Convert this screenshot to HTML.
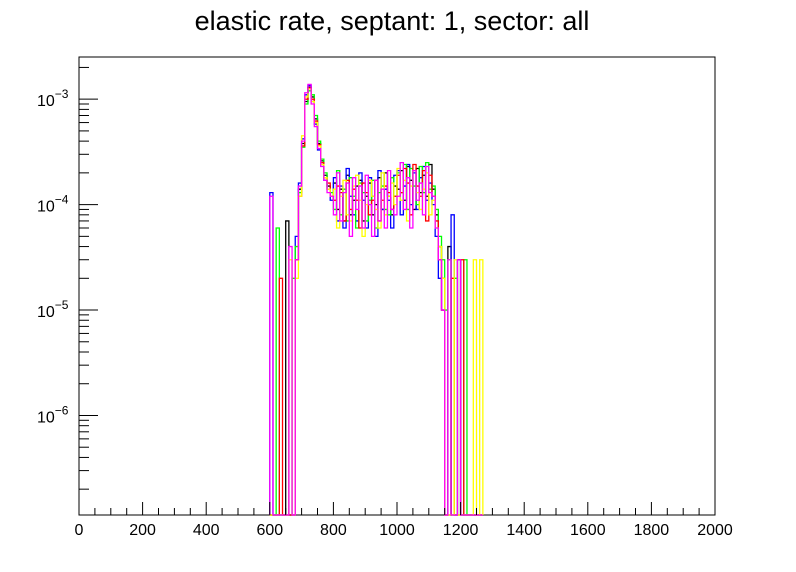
<!DOCTYPE html>
<html><head><meta charset="utf-8"><style>
body{margin:0;background:#fff;}
svg{display:block;font-family:"Liberation Sans",sans-serif;}
</style></head><body>
<svg id="c" width="796" height="572">
<rect width="796" height="572" fill="#fff"/>
<text x="392" y="30" font-size="27" text-anchor="middle">elastic rate, septant: 1, sector: all</text>
<rect x="79" y="57" width="636" height="458" fill="none" stroke="#000" stroke-width="1"/>
<g id="marks"></g>
<g id="axes"></g>
</svg>
<script>
const binStart = 600;
const binWidth = 10;
const seriesColors = ["#000000","#0000ff","#00ff00","#ff0000","#ffff00","#ff00ff"];
const seriesNames = ["black","blue","green","red","yellow","magenta"];
// values in units of 1e-5
const sBlack = [0,0,0,0,0,7,0,0, 3,14,38,95,130,105,65,38,26,19,15,12, 16,9,14,7,19,8,11,15,17,7,12,16,8,10,18,9,20,12,8,15, 14,21,11,23,17,9,22,13,19,12,24, 14,8,4,2, 0,4,0,0,3,0,0,0,0,0,0,0];
const sBlue = [13,0,0,0,0,0,0,0, 5,16,42,110,135,95,58,33,24,17,14,11, 18,7,15,6,22,12,8,7,20,11,6,18,12,5,21,9,14,11,6,19, 21,8,15,24,10,20,9,18,23,11,16, 10,5,2,1, 0,0,8,0,3,0,0,0,0,0,0,0];
const sGreen = [0,0,6,0,0,0,0,2, 4,13,35,90,120,110,70,40,27,20,14,13, 9,21,8,14,7,18,12,6,16,13,7,11,17,6,13,15,9,8,18,12, 20,13,24,9,22,15,10,23,13,25,14, 15,9,5,3, 1,3,0,2,0,0,3,0,0,0,0,0];
const sRed = [0,0,0,2,0,0,0,0, 3,12,36,100,128,100,62,37,25,18,16,12, 11,15,13,7,17,9,14,11,6,16,13,8,11,17,7,11,15,13,9,12, 19,13,22,16,8,24,15,12,21,7,19, 12,7,3,1, 0,0,2,0,0,3,0,0,0,0,0,0];
const sYellow = [0,0,0,0,0,0,3,0, 2,12,45,105,125,95,60,36,24,18,14,12, 14,6,12,17,8,7,15,19,11,5,10,17,12,9,6,20,8,12,16,10, 22,11,17,7,15,21,13,9,14,20,8, 11,6,4,2, 0,0,0,3,0,0,0,0,0,3,0,3];
const sMagenta = [12,0,0,0,0,0,4,0, 3,15,40,115,138,90,55,34,23,17,13,12, 8,20,7,13,16,5,18,9,15,6,19,10,5,17,7,14,6,21,9,8, 12,25,9,18,6,21,11,16,8,23,13, 12,6,3,1, 0,3,0,0,3,0,0,0,0,0,0,0];
const xTicks = [0,200,400,600,800,1000,1200,1400,1600,1800,2000];
const yDecades = [-6,-5,-4,-3];

const X0=79,X1=715,Y0=515,Y1=57;
const xMin=0,xMax=2000;
const logMin=-6.944, logMax=-2.6;
function xs(v){return X0+(v-xMin)/(xMax-xMin)*(X1-X0);}
function ys(v){ if(v<=0) return Y0; const l=Math.log10(v); let y=Y0-(l-logMin)/(logMax-logMin)*(Y0-Y1); return Math.max(Y1,Math.min(Y0,y));}
const NS="http://www.w3.org/2000/svg";
const marks=document.getElementById('marks');
const allSeries=[sBlack,sBlue,sGreen,sRed,sYellow,sMagenta];
allSeries.forEach((s,k)=>{
  let d="M"+xs(binStart)+","+Y0;
  s.forEach((v,i)=>{
    const y=ys(v*1e-5);
    d+=" L"+xs(binStart+i*binWidth)+","+y+" L"+xs(binStart+(i+1)*binWidth)+","+y;
  });
  d+=" L"+xs(binStart+s.length*binWidth)+","+Y0;
  const p=document.createElementNS(NS,'path');
  p.setAttribute('d',d);p.setAttribute('fill','none');
  p.setAttribute('stroke',seriesColors[k]);p.setAttribute('stroke-width','1.3');
  
  
  marks.appendChild(p);
});
const axes=document.getElementById('axes');
function line(x1,y1,x2,y2,name){const l=document.createElementNS(NS,'line');l.setAttribute('x1',x1);l.setAttribute('y1',y1);l.setAttribute('x2',x2);l.setAttribute('y2',y2);l.setAttribute('stroke','#000');


axes.appendChild(l);}
for(let v=0;v<=2000;v+=50){const x=xs(v);const major=v%200===0;line(x,Y0,x,Y0-(major?13:7),'x-tick');}
xTicks.forEach(v=>{const t=document.createElementNS(NS,'text');t.setAttribute('x',xs(v));t.setAttribute('y',535);t.setAttribute('font-size','16');t.setAttribute('text-anchor','middle');t.textContent=v;


axes.appendChild(t);});
for(let e=-7;e<=-3;e++){for(let m=1;m<10;m++){const v=m*Math.pow(10,e);const l=Math.log10(v);if(l<logMin||l>logMax)continue;const y=ys(v);line(X0,y,X0+(m===1?19:10),y,'y-tick');}}
yDecades.forEach(e=>{const y=ys(Math.pow(10,e));const t=document.createElementNS(NS,'text');t.setAttribute('x',37);t.setAttribute('y',y+7);t.setAttribute('font-size','16');
t.innerHTML='10<tspan dy="-8" font-size="12">'+'\u2212'+Math.abs(e)+'</tspan>';


axes.appendChild(t);});
</script>
</body></html>
